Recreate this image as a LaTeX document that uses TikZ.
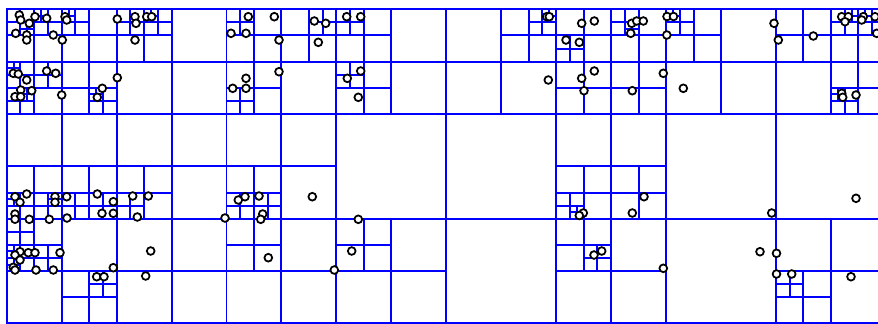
\documentclass[tikz,border=0pt]{standalone}
\usepackage{tikz}

\tikzset{quadline/.style={blue,line width=1.7pt},
  quaddot/.style={black,fill=white,line width=1.5pt}}

% point region quadtree, bucket capacity 1
\newcount\qtcount
\def\qtmax{8}
\newcommand\qtadd[3]{\xdef#1{\unexpanded\expandafter{#1}\noexpand\qtp{#2}{#3}}}
\newcommand\qtcell[6]{%
  \begingroup
  \qtcount=0
  \def\qtp##1##2{\advance\qtcount by 1\relax}%
  #6%
  \ifnum\qtcount>1 \ifnum#5<\qtmax\relax
    \pgfmathsetmacro\qtw{#3/2}\pgfmathsetmacro\qth{#4/2}%
    \pgfmathsetmacro\qtmx{#1+\qtw}\pgfmathsetmacro\qtmy{#2+\qth}%
    \draw[quadline] (\qtmx,#2) -- ++(0,#4) (#1,\qtmy) -- ++(#3,0);
    \gdef\qtA{}\gdef\qtB{}\gdef\qtC{}\gdef\qtD{}%
    \def\qtp##1##2{%
      \ifdim##1pt<\qtmx pt\relax
        \ifdim##2pt<\qtmy pt\relax \qtadd\qtA{##1}{##2}\else \qtadd\qtC{##1}{##2}\fi
      \else
        \ifdim##2pt<\qtmy pt\relax \qtadd\qtB{##1}{##2}\else \qtadd\qtD{##1}{##2}\fi
      \fi}%
    #6%
    \pgfmathtruncatemacro\qtd{#5+1}%
    \edef\qtnext{%
      \noexpand\qtcell{#1}{#2}{\qtw}{\qth}{\qtd}{\unexpanded\expandafter{\qtA}}%
      \noexpand\qtcell{\qtmx}{#2}{\qtw}{\qth}{\qtd}{\unexpanded\expandafter{\qtB}}%
      \noexpand\qtcell{#1}{\qtmy}{\qtw}{\qth}{\qtd}{\unexpanded\expandafter{\qtC}}%
      \noexpand\qtcell{\qtmx}{\qtmy}{\qtw}{\qth}{\qtd}{\unexpanded\expandafter{\qtD}}}%
    \qtnext
  \fi\fi
  \endgroup}

% the points
\def\allpts{%
\qtp{19.3}{15}\qtp{20.7}{20}\qtp{29.3}{23.3}\qtp{35}{16.7}\qtp{46.7}{18.3}
\qtp{65}{16.7}\qtp{66.7}{20}\qtp{15.7}{33.3}\qtp{26.7}{35}\qtp{26.7}{40}
\qtp{53.3}{35}\qtp{62.3}{40}\qtp{117.3}{19}\qtp{135}{16.7}\qtp{136}{23.3}
\qtp{146.7}{16.7}\qtp{151.7}{16.7}\qtp{135}{40}\qtp{13.3}{73.3}\qtp{18.3}{74}
\qtp{26.7}{80}\qtp{46.7}{71}\qtp{55.7}{73.3}\qtp{117.3}{77.7}\qtp{20.7}{90}
\qtp{31.7}{90.7}\qtp{15}{96.7}\qtp{20.7}{96.7}\qtp{61.7}{95}\qtp{102.3}{88.3}
\qtp{97.3}{97.3}%
\qtp{248.3}{16.7}\qtp{274.3}{16.7}\qtp{314.3}{21}\qtp{325.7}{23.3}\qtp{346.7}{16.7}
\qtp{360.7}{16.7}\qtp{231}{33.3}\qtp{246}{33.3}\qtp{279}{40}\qtp{318.3}{42.3}
\qtp{279}{71.7}\qtp{246}{78.3}\qtp{232.7}{88.3}\qtp{246}{88.3}\qtp{347.3}{78.3}
\qtp{360.7}{71}\qtp{358.3}{97.3}%
\qtp{546.7}{16.7}\qtp{549.3}{16.7}\qtp{581.7}{23.3}\qtp{594.3}{21}\qtp{566}{40}
\qtp{579.3}{42.3}\qtp{631.7}{23.3}\qtp{636.7}{21}\qtp{643.3}{21}\qtp{630.7}{33.3}
\qtp{548.3}{80}\qtp{581.7}{78.3}\qtp{594.3}{71}\qtp{584}{90.7}\qtp{632.3}{90.7}%
\qtp{667}{16.5}\qtp{673.5}{16.5}\qtp{666.8}{35}\qtp{774}{23.3}\qtp{778.3}{40}
\qtp{813.3}{36}\qtp{841.7}{16.7}\qtp{848.3}{16.7}\qtp{845}{21.7}\qtp{863.3}{16.7}
\qtp{861.7}{20}\qtp{875}{16.7}\qtp{876.7}{33.3}\qtp{663.3}{73.3}\qtp{683.3}{88.3}
\qtp{841.7}{93.3}\qtp{842.7}{97.3}\qtp{856}{95}%
\qtp{15}{196.7}\qtp{26.7}{194}\qtp{20}{202.3}\qtp{55}{196.7}\qtp{66.7}{196.7}
\qtp{55}{202.3}\qtp{97.3}{194}\qtp{113.3}{201.7}\qtp{132.7}{196}\qtp{148.3}{196}
\qtp{15}{214}\qtp{15}{219.2}\qtp{29.3}{219.3}\qtp{49.3}{219.3}\qtp{67}{218}
\qtp{102}{213.3}\qtp{113.3}{213.3}\qtp{137.3}{217}%
\qtp{20}{251.7}\qtp{15}{255}\qtp{28.3}{252.7}\qtp{35}{252.7}\qtp{20}{260}
\qtp{60}{252.7}\qtp{13.3}{267.3}\qtp{15}{270}\qtp{36}{270}\qtp{53.3}{270}
\qtp{150.7}{251}\qtp{113.3}{267.7}\qtp{96.7}{276.7}\qtp{104}{276.7}\qtp{145.7}{276}%
\qtp{238.3}{200}\qtp{245}{196.7}\qtp{259}{196}\qtp{312.3}{196.7}\qtp{358.3}{219.3}
\qtp{225}{218}\qtp{262.7}{214}\qtp{260.7}{219.3}\qtp{268.3}{257.7}\qtp{351.7}{251}
\qtp{334.3}{270}%
\qtp{644}{196.7}\qtp{632.3}{213}\qtp{583.3}{213}\qtp{579.3}{215.5}\qtp{601.7}{251}
\qtp{594}{255}\qtp{663.3}{268.3}%
\qtp{856}{198.3}\qtp{771.7}{213}\qtp{760}{251.7}\qtp{776.5}{253.3}\qtp{776.5}{274}
\qtp{791.7}{274}\qtp{851}{276.7}}

\begin{document}
\begin{tikzpicture}[x=0.03cm,y=-0.03cm]
\useasboundingbox (0,0) rectangle (878,323);
\fill[white] (0,0) rectangle (878,323);
\clip (0,0) rectangle (878,323);
% cells
\draw[quadline] (6.7,9.3) rectangle (885.9,846.9);
\qtcell{6.7}{9.3}{879.2}{837.6}{0}{\allpts}
% points on top
\def\qtp#1#2{\draw[quaddot] (#1,#2) circle[radius=3.3pt];}
\allpts
\end{tikzpicture}
\end{document}
